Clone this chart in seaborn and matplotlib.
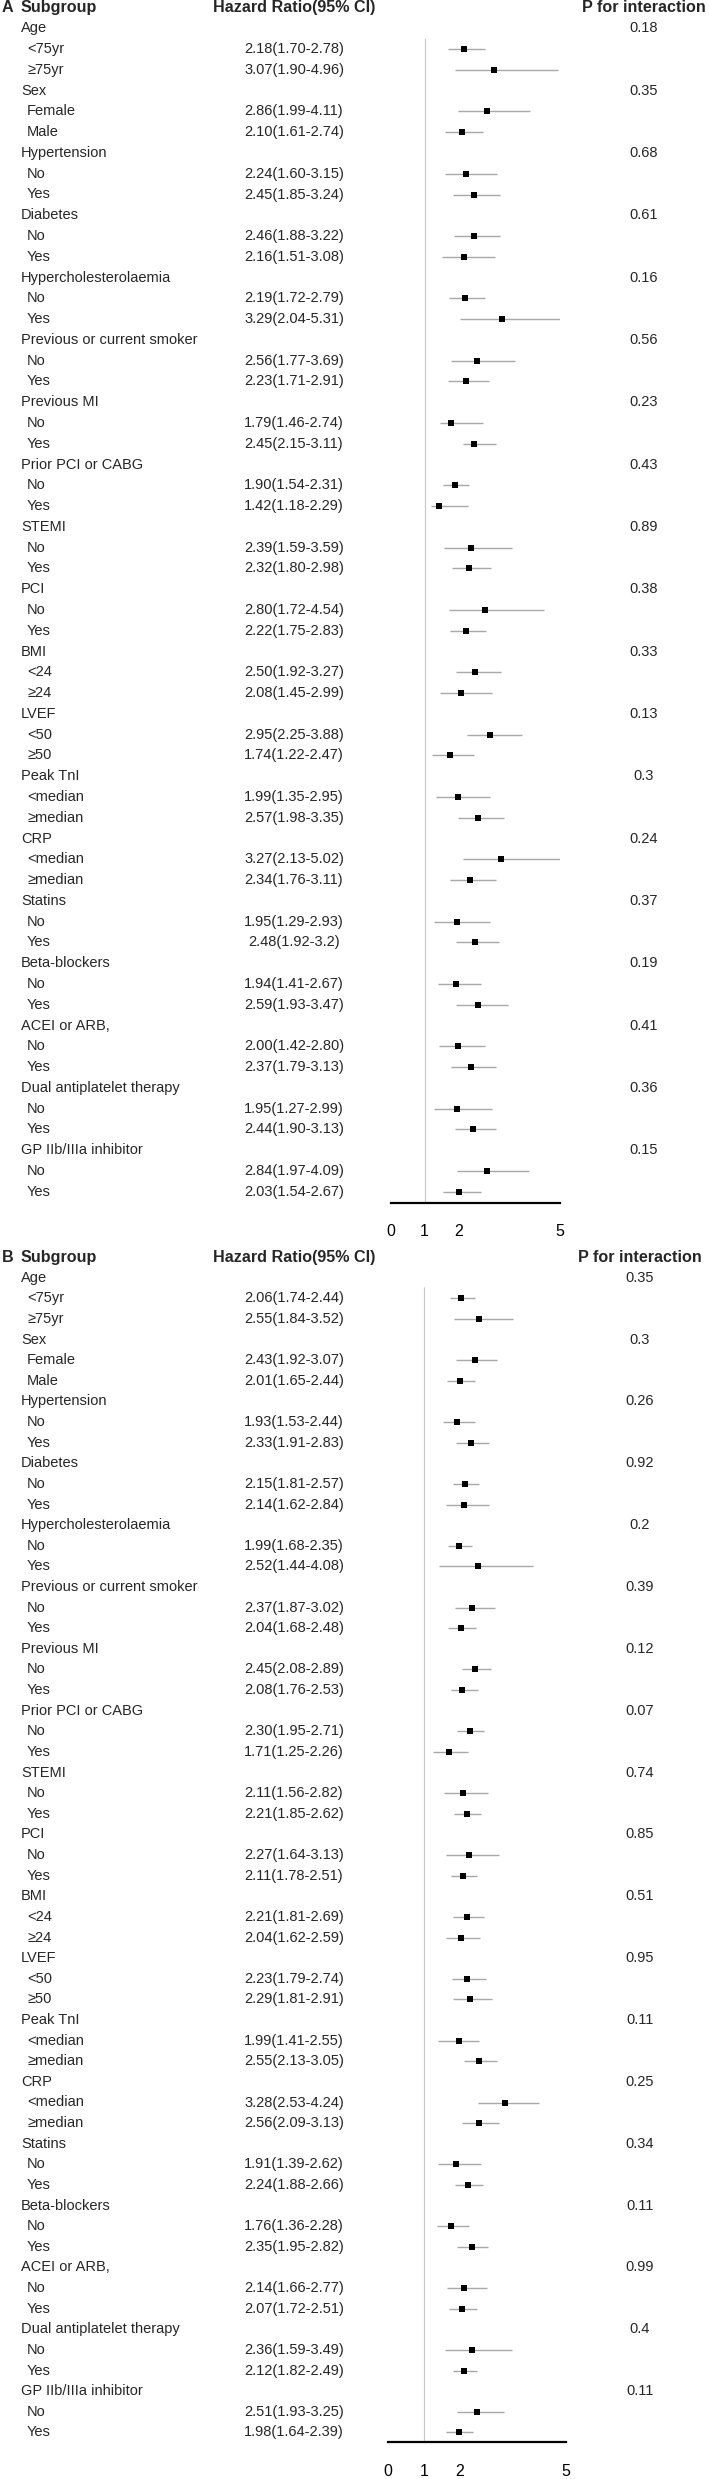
import re
import numpy as np
import pandas as pd
import matplotlib
matplotlib.use("Agg")
import matplotlib.pyplot as plt
import matplotlib.transforms as mtransforms
import seaborn as sns

# subgroup definitions (same for both panels)
groups = ["Age", "Sex", "Hypertension", "Diabetes", "Hypercholesterolaemia",
          "Previous or current smoker", "Previous MI", "Prior PCI or CABG",
          "STEMI", "PCI", "BMI", "LVEF", "Peak TnI", "CRP", "Statins",
          "Beta-blockers", "ACEI or ARB,", "Dual antiplatelet therapy",
          "GP IIb/IIIa inhibitor"]
levels = [["<75yr", "≥75yr"], ["Female", "Male"], ["No", "Yes"], ["No", "Yes"],
          ["No", "Yes"], ["No", "Yes"], ["No", "Yes"], ["No", "Yes"],
          ["No", "Yes"], ["No", "Yes"], ["<24", "≥24"], ["<50", "≥50"],
          ["<median", "≥median"], ["<median", "≥median"], ["No", "Yes"],
          ["No", "Yes"], ["No", "Yes"], ["No", "Yes"], ["No", "Yes"]]

# panel A
a_ci = ["2.18(1.70-2.78)", "3.07(1.90-4.96)",
        "2.86(1.99-4.11)", "2.10(1.61-2.74)",
        "2.24(1.60-3.15)", "2.45(1.85-3.24)",
        "2.46(1.88-3.22)", "2.16(1.51-3.08)",
        "2.19(1.72-2.79)", "3.29(2.04-5.31)",
        "2.56(1.77-3.69)", "2.23(1.71-2.91)",
        "1.79(1.46-2.74)", "2.45(2.15-3.11)",
        "1.90(1.54-2.31)", "1.42(1.18-2.29)",
        "2.39(1.59-3.59)", "2.32(1.80-2.98)",
        "2.80(1.72-4.54)", "2.22(1.75-2.83)",
        "2.50(1.92-3.27)", "2.08(1.45-2.99)",
        "2.95(2.25-3.88)", "1.74(1.22-2.47)",
        "1.99(1.35-2.95)", "2.57(1.98-3.35)",
        "3.27(2.13-5.02)", "2.34(1.76-3.11)",
        "1.95(1.29-2.93)", "2.48(1.92-3.2)",
        "1.94(1.41-2.67)", "2.59(1.93-3.47)",
        "2.00(1.42-2.80)", "2.37(1.79-3.13)",
        "1.95(1.27-2.99)", "2.44(1.90-3.13)",
        "2.84(1.97-4.09)", "2.03(1.54-2.67)"]
a_p = ["0.18", "0.35", "0.68", "0.61", "0.16", "0.56", "0.23", "0.43", "0.89",
       "0.38", "0.33", "0.13", "0.3", "0.24", "0.37", "0.19", "0.41", "0.36",
       "0.15"]

# panel B
b_ci = ["2.06(1.74-2.44)", "2.55(1.84-3.52)",
        "2.43(1.92-3.07)", "2.01(1.65-2.44)",
        "1.93(1.53-2.44)", "2.33(1.91-2.83)",
        "2.15(1.81-2.57)", "2.14(1.62-2.84)",
        "1.99(1.68-2.35)", "2.52(1.44-4.08)",
        "2.37(1.87-3.02)", "2.04(1.68-2.48)",
        "2.45(2.08-2.89)", "2.08(1.76-2.53)",
        "2.30(1.95-2.71)", "1.71(1.25-2.26)",
        "2.11(1.56-2.82)", "2.21(1.85-2.62)",
        "2.27(1.64-3.13)", "2.11(1.78-2.51)",
        "2.21(1.81-2.69)", "2.04(1.62-2.59)",
        "2.23(1.79-2.74)", "2.29(1.81-2.91)",
        "1.99(1.41-2.55)", "2.55(2.13-3.05)",
        "3.28(2.53-4.24)", "2.56(2.09-3.13)",
        "1.91(1.39-2.62)", "2.24(1.88-2.66)",
        "1.76(1.36-2.28)", "2.35(1.95-2.82)",
        "2.14(1.66-2.77)", "2.07(1.72-2.51)",
        "2.36(1.59-3.49)", "2.12(1.82-2.49)",
        "2.51(1.93-3.25)", "1.98(1.64-2.39)"]
b_p = ["0.35", "0.3", "0.26", "0.92", "0.2", "0.39", "0.12", "0.07", "0.74",
       "0.85", "0.51", "0.95", "0.11", "0.25", "0.34", "0.11", "0.99", "0.4",
       "0.11"]

ticks = [0, 1, 2, 5]

W, H = 709, 2479

sns.set_style("white")
plt.rcParams["font.family"] = ["Liberation Sans", "DejaVu Sans"]

BODY = 10.5
HEAD = 11.6


def build_frame(ci_text):
    rows = []
    k = 0
    for g, lv in enumerate(levels):
        for j, name in enumerate(lv):
            hr, lo, hi = [float(v) for v in re.findall(r"[\d.]+", ci_text[k])]
            rows.append({"level": name, "text": ci_text[k], "hr": hr,
                         "lo": lo, "hi": hi, "row": 3 * g + 1 + j})
            k += 1
    return pd.DataFrame(rows)


def draw_panel(fig, letter, ci_text, p_text, g):
    # g: pixel geometry of the panel
    top_px, bot_px = g["top"], g["axis"]
    ax = fig.add_axes([g["x0"] / W, 1 - bot_px / H,
                       (g["x5"] - g["x0"]) / W, (bot_px - top_px) / H])
    r_top = (top_px - g["row0"]) / g["step"]
    r_bot = (bot_px - g["row0"]) / g["step"]

    df = build_frame(ci_text)

    ax.vlines(1, 0.47, r_bot, color="#c9c9c9", lw=0.9, zorder=1)
    ax.hlines(df["row"], df["lo"], df["hi"], color="#a8a8a8", lw=1.0, zorder=2)
    sns.scatterplot(data=df, x="hr", y="row", marker="s", color="black",
                    s=15, linewidth=0, legend=False, ax=ax, zorder=3)

    ax.set_xlim(0, 5)
    ax.set_ylim(r_bot, r_top)
    ax.set(xlabel="", ylabel="")
    ax.set_yticks([])
    ax.set_xticks(ticks)
    ax.set_xticklabels([str(t) for t in ticks], fontsize=11.5)
    ax.tick_params(axis="x", direction="out", length=7.5, width=1.5,
                   pad=8, colors="black")
    for s in ["top", "left", "right"]:
        ax.spines[s].set_visible(False)
    ax.spines["bottom"].set_color("black")
    ax.spines["bottom"].set_linewidth(1.6)
    ax.patch.set_alpha(0)

    tr = mtransforms.blended_transform_factory(fig.transFigure, ax.transData)

    # header row
    ax.text(2 / W, -1, letter, transform=tr, ha="left", va="center",
            fontsize=HEAD, fontweight="bold", clip_on=False)
    ax.text(21 / W, -1, "Subgroup", transform=tr, ha="left", va="center",
            fontsize=HEAD, fontweight="bold", clip_on=False)
    ax.text(g["hr_c"] / W, -1, "Hazard Ratio(95% CI)", transform=tr,
            ha="center", va="center", fontsize=HEAD, fontweight="bold",
            clip_on=False)
    ax.text(g["p_c"] / W, -1, "P for interaction", transform=tr,
            ha="center", va="center", fontsize=HEAD, fontweight="bold",
            clip_on=False)

    for i, name in enumerate(groups):
        ax.text(21 / W, 3 * i, name, transform=tr, ha="left", va="center",
                fontsize=BODY, clip_on=False)
        ax.text(g["p_c"] / W, 3 * i, p_text[i], transform=tr, ha="center",
                va="center", fontsize=BODY, clip_on=False)

    for _, r in df.iterrows():
        ax.text(27 / W, r["row"], r["level"], transform=tr, ha="left",
                va="center", fontsize=BODY, clip_on=False)
        ax.text(g["hr_c"] / W, r["row"], r["text"], transform=tr,
                ha="center", va="center", fontsize=BODY, clip_on=False)
    return ax


fig = plt.figure(figsize=(W / 100, H / 100), dpi=100)
fig.patch.set_facecolor("white")

geom_a = {"top": 0, "axis": 1202.7, "row0": 28.3, "step": 20.775,
          "x0": 390.7, "x5": 559.7, "hr_c": 294, "p_c": 644}
geom_b = {"top": 1246, "axis": 2442.3, "row0": 1277.7, "step": 20.62,
          "x0": 388.3, "x5": 565.7, "hr_c": 294, "p_c": 640}

draw_panel(fig, "A", a_ci, a_p, geom_a)
draw_panel(fig, "B", b_ci, b_p, geom_b)

fig.savefig("out.png", dpi=100)
